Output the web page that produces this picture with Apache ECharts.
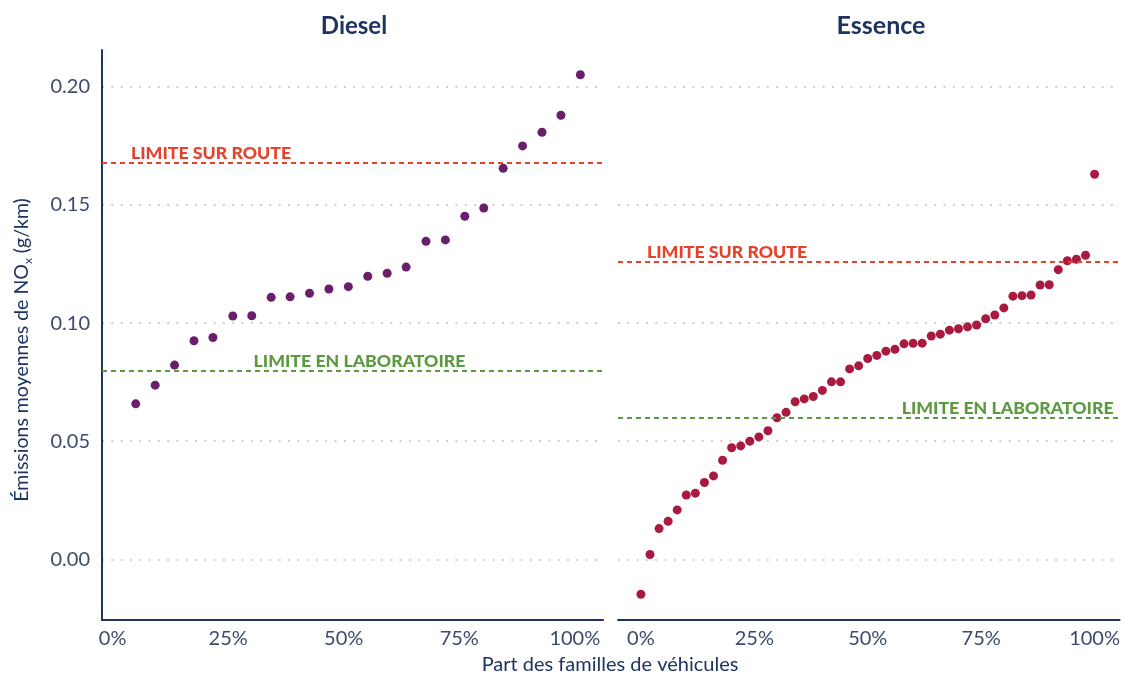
<!DOCTYPE html>
<html>
<head>
<meta charset="utf-8">
<script src="https://cdn.jsdelivr.net/npm/echarts@6/dist/echarts.min.js"></script>
<style>
html,body{margin:0;padding:0;background:#fff;}
#chart{width:1123px;height:675px;}
</style>
</head>
<body>
<div id="chart"></div>
<script>
// ---- Data ----
const panelTitles = ['Diesel', 'Essence'];
const xTickValues = [0, 25, 50, 75, 100];
const yTickValues = [0, 0.05, 0.10, 0.15, 0.20];

const dieselX = [5.0, 9.2, 13.4, 17.6, 21.7, 26.0, 30.1, 34.3, 38.4, 42.6, 46.8, 51.0,
  55.2, 59.4, 63.5, 67.8, 72.0, 76.2, 80.3, 84.5, 88.7, 92.9, 97.0, 101.2];
const dieselY = [0.0658, 0.0737, 0.0822, 0.0925, 0.0939, 0.1030, 0.1031, 0.1109, 0.1111, 0.1126,
  0.1144, 0.1154, 0.1198, 0.1211, 0.1237, 0.1346, 0.1352, 0.1452, 0.1487, 0.1655,
  0.1750, 0.1808, 0.1880, 0.2051];

const essenceX = [0, 2, 4, 6, 8, 10, 12, 14, 16, 18, 20, 22, 24, 26, 28, 30, 32, 34, 36, 38,
  40, 42, 44, 46, 48, 50, 52, 54, 56, 58, 60, 62, 64, 66, 68, 70, 72, 74, 76, 78,
  80, 82, 84, 86, 88, 90, 92, 94, 96, 98, 100];
const essenceY = [-0.0148, 0.0020, 0.0130, 0.0161, 0.0209, 0.0272, 0.0280, 0.0325, 0.0353, 0.0419,
  0.0472, 0.0480, 0.0500, 0.0518, 0.0544, 0.0599, 0.0622, 0.0667, 0.0679, 0.0689,
  0.0715, 0.0751, 0.0751, 0.0806, 0.0819, 0.0850, 0.0863, 0.0881, 0.0889, 0.0912,
  0.0914, 0.0915, 0.0945, 0.0953, 0.0970, 0.0976, 0.0984, 0.0992, 0.1018, 0.1034,
  0.1064, 0.1114, 0.1116, 0.1119, 0.1161, 0.1162, 0.1226, 0.1264, 0.1270, 0.1287,
  0.1630];

const roadLimits = [0.168, 0.126];   // Diesel, Essence
const labLimits = [0.08, 0.06];      // Diesel, Essence
const roadLabel = 'LIMITE SUR ROUTE';
const labLabel = 'LIMITE EN LABORATOIRE';
const yTitleMain = 'Émissions moyennes de NO';
const yTitleSub = 'x';
const yTitleEnd = ' (g/km)';
const xTitle = 'Part des familles de véhicules';

// ---- Styles ----
const NAVY = '#1d3461';
const TICK = '#3b4a6d';
const RED = '#e8412b';
const GREEN = '#5c9a3f';
const FONT = 'Lato, "Noto Sans", sans-serif';

const toPairs = (xs, ys) => xs.map((x, i) => [x, ys[i]]);

function limitLines(road, lab, labPos) {
  return {
    symbol: 'none',
    silent: true,
    animation: false,
    precision: 4,
    data: [
      {
        yAxis: road,
        lineStyle: { color: RED, type: [5, 4], width: 2 },
        label: {
          show: true, formatter: roadLabel, position: 'insideStartTop',
          distance: [29, 0], color: RED, fontFamily: FONT, fontWeight: 900, fontSize: 17.7
        }
      },
      {
        yAxis: lab,
        lineStyle: { color: GREEN, type: [5, 4], width: 2 },
        label: Object.assign({
          show: true, formatter: labLabel, color: GREEN, fontFamily: FONT,
          fontWeight: 900, fontSize: 17.7
        }, labPos)
      }
    ]
  };
}

const yMin = -0.0255, yMax = 0.2156;

function yAxisCfg(gridIndex, showAxis) {
  return {
    type: 'value', gridIndex: gridIndex, min: yMin, max: yMax, splitNumber: 5,
    axisLine: { show: showAxis, onZero: false, lineStyle: { color: NAVY, width: 2 } },
    axisTick: { show: false },
    axisLabel: {
      show: showAxis, showMinLabel: false, showMaxLabel: false,
      color: TICK, fontFamily: FONT, fontSize: 20, margin: 12,
      formatter: v => v.toFixed(2)
    },
    splitLine: {
      show: true, showMinLine: false, showMaxLine: false,
      lineStyle: { color: '#cfcfcf', type: [2, 7.3], width: 2 }
    }
  };
}

function xAxisCfg(gridIndex, min, max) {
  return {
    type: 'value', gridIndex: gridIndex, min: min, max: max,
    axisLine: { show: true, onZero: false, lineStyle: { color: NAVY, width: 2 } },
    axisTick: { show: false },
    splitLine: { show: false },
    axisLabel: {
      color: TICK, fontFamily: FONT, fontSize: 20, margin: 9,
      customValues: xTickValues,
      formatter: v => Math.round(v) + '%'
    }
  };
}

const chart = echarts.init(document.getElementById('chart'), null, { renderer: 'canvas' });

chart.setOption({
  animation: false,
  backgroundColor: '#ffffff',
  grid: [
    { left: 102, top: 50, width: 501, height: 569.5 },
    { left: 618, top: 50, width: 504, height: 569.5 }
  ],
  xAxis: [xAxisCfg(0, -2.3, 106.1), xAxisCfg(1, -5.05, 105.5)],
  yAxis: [yAxisCfg(0, true), yAxisCfg(1, false)],
  series: [
    {
      type: 'scatter', xAxisIndex: 0, yAxisIndex: 0, symbolSize: 9,
      itemStyle: { color: '#6a1f6b', opacity: 1 },
      data: toPairs(dieselX, dieselY),
      markLine: limitLines(roadLimits[0], labLimits[0],
        { position: 'insideMiddleTop', distance: 0, padding: [0, 0, 0, 14] }),
      z: 3
    },
    {
      type: 'scatter', xAxisIndex: 1, yAxisIndex: 1, symbolSize: 9,
      itemStyle: { color: '#aa1a40', opacity: 1 },
      data: toPairs(essenceX, essenceY),
      markLine: limitLines(roadLimits[1], labLimits[1],
        { position: 'insideEndTop', distance: [6, 0] }),
      z: 3
    }
  ],
  graphic: [
    { type: 'text', x: 354, y: 26, style: { text: panelTitles[0], textAlign: 'center', textVerticalAlign: 'middle', font: 'bold 24px ' + FONT, fill: NAVY } },
    { type: 'text', x: 881, y: 26, style: { text: panelTitles[1], textAlign: 'center', textVerticalAlign: 'middle', font: 'bold 25px ' + FONT, fill: NAVY } },
    { type: 'text', x: 610, y: 665, style: { text: xTitle, textAlign: 'center', textVerticalAlign: 'middle', font: '20px ' + FONT, fill: NAVY } },
    {
      type: 'text', x: 22, y: 350, rotation: Math.PI / 2,
      style: {
        text: '{n|' + yTitleMain + '}{s|' + yTitleSub + '}{n|' + yTitleEnd + '}',
        textAlign: 'center', textVerticalAlign: 'middle', fill: NAVY,
        rich: {
          n: { fontFamily: FONT, fontSize: 19.5, lineHeight: 24, verticalAlign: 'middle', fill: NAVY },
          s: { fontFamily: FONT, fontSize: 12, lineHeight: 24, verticalAlign: 'bottom', fill: NAVY }
        }
      }
    }
  ]
});
</script>
</body>
</html>
